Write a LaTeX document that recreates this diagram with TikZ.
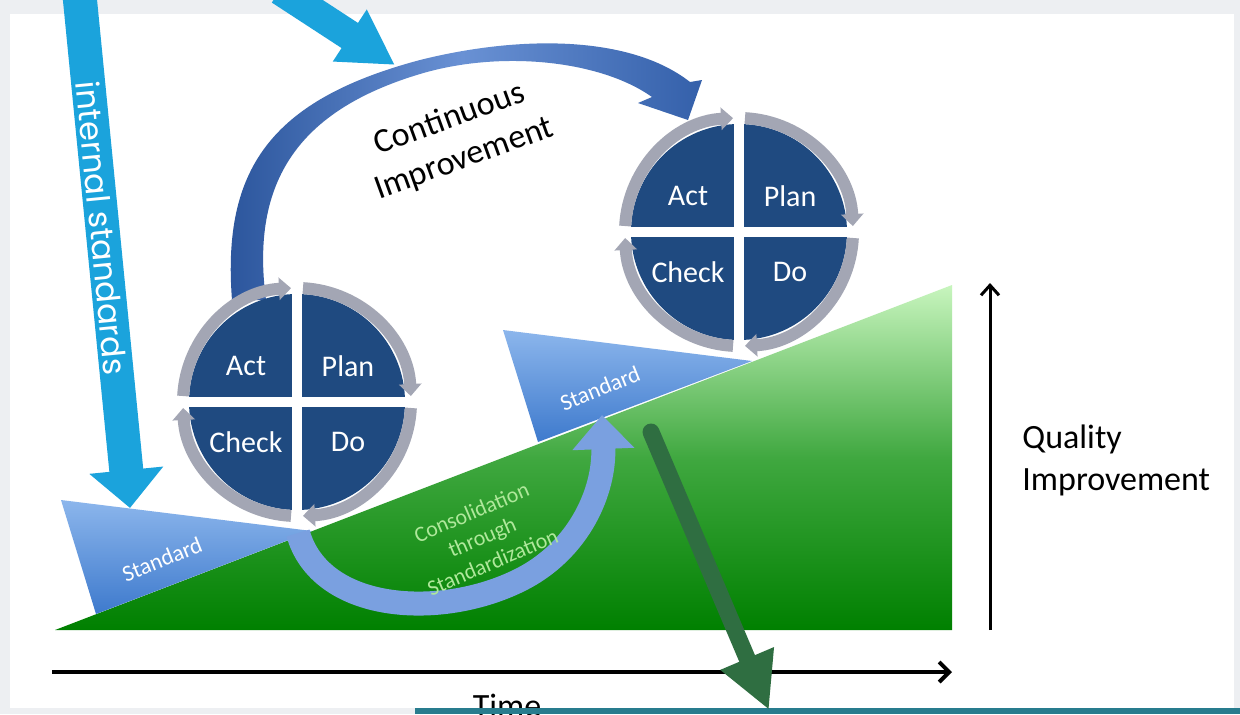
\documentclass[tikz,border=0pt]{standalone}
\usepackage{fontspec}
\setmainfont{Carlito}
\newfontfamily\geofont{Poppins}
\usepackage{tikz}
\usetikzlibrary{calc,arrows.meta}

\definecolor{skyblue}{RGB}{27,163,220}
\definecolor{pdcablue}{RGB}{31,74,128}
\definecolor{ringgray}{RGB}{163,166,180}
\definecolor{arcdark}{RGB}{42,84,155}
\definecolor{arclight}{RGB}{105,145,212}
\definecolor{arcright}{RGB}{52,96,170}
\definecolor{conblue}{RGB}{122,160,224}
\definecolor{darkgreen}{RGB}{47,110,65}
\definecolor{lightgreen}{RGB}{200,245,190}
\definecolor{midgreen}{RGB}{64,168,64}
\definecolor{rampgreen}{RGB}{0,128,0}
\definecolor{stdlight}{RGB}{140,182,236}
\definecolor{stddark}{RGB}{62,122,205}
\definecolor{framegray}{RGB}{237,239,242}
\definecolor{barteal}{RGB}{40,124,142}
\definecolor{contgreen}{RGB}{175,232,155}

\begin{document}
\begin{tikzpicture}[x=0.5pt,y=-0.5pt]
  \tikzstyle{quad}=[text=white,font=\fontsize{15}{18}\selectfont,inner sep=0pt]
  \tikzstyle{ring}=[draw=ringgray,line width=6pt,-{Triangle[width=11pt,length=6pt]}]
  \tikzstyle{std}=[text=white,font=\fontsize{11.5}{14}\selectfont,rotate=22,inner sep=0pt]
  \tikzstyle{big}=[font=\fontsize{17}{21}\selectfont,inner sep=0pt]
  \useasboundingbox (0,0) rectangle (1240,714);
  \clip (0,0) rectangle (1240,714);
  \fill[framegray] (0,0) rectangle (1240,714);
  \fill[white] (10,14) rectangle (1234,708);
  \coordinate (ciA) at (232,300);
  \coordinate (ciB) at (688,120);
  \shade[left color=arcdark,right color=arcright,middle color=arclight] (ciA) .. controls (222,170) and (270,100) .. (420,60) .. controls (520,35) and (630,35) .. (690,82) -- (702,80) -- (ciB) -- (638,103) -- (652,97) .. controls (600,60) and (500,50) .. (420,74) .. controls (300,110) and (250,180) .. (266,300) -- cycle;
  \coordinate (tsA) at (280,-10);
  \coordinate (tsB) at (395,65);
  \draw[skyblue,line width=15pt,-{Triangle[width=29pt,length=27pt]}] (tsA) -- (tsB);
  \coordinate (rL) at (55,630);
  \coordinate (rR) at (952,630);
  \coordinate (rT) at (952,285);
  \shade[top color=lightgreen,bottom color=rampgreen,middle color=midgreen] (rL) -- (rR) -- (rT) -- cycle;
  \coordinate (sa1) at (61,500);
  \coordinate (sa2) at (312,531);
  \coordinate (sa3) at (96,614);
  \shade[top color=stdlight,bottom color=stddark] (sa1) -- (sa2) -- (sa3) -- cycle;
  \node[std] (stdA) at (162,559) {Standard};
  \coordinate (sb1) at (503,330);
  \coordinate (sb2) at (752,361);
  \coordinate (sb3) at (538,442);
  \shade[top color=stdlight,bottom color=stddark] (sb1) -- (sb2) -- (sb3) -- cycle;
  \node[std] (stdB) at (600,388) {Standard};
  \coordinate (coA) at (298,533);
  \coordinate (coB) at (602,415);
  \draw[conblue,line width=12pt,-{Triangle[width=30pt,length=17pt]}] (coA) .. controls (320,612) and (440,620) .. (520,580) .. controls (580,550) and (605,490) .. (coB);
  \node[rotate=23,align=center,text=contgreen,font=\fontsize{11}{13.5}\selectfont,inner sep=0pt] (cons) at (482,537) {Consolidation\\through\\Standardization};
  \foreach \p/\cx/\cy in {pa/297/402,pb/739/232}{
    \coordinate (\p) at (\cx,\cy);
    \fill[pdcablue] (\p) circle[radius=108];
    \draw[white,line width=5pt] ($(\p)+(-122,0)$) -- ($(\p)+(122,0)$);
    \draw[white,line width=5pt] ($(\p)+(0,-122)$) -- ($(\p)+(0,122)$);
    \draw[ring] ($(\p)+(183:114)$) arc[start angle=183,end angle=267,radius=114];
    \draw[ring] ($(\p)+(273:114)$) arc[start angle=273,end angle=357,radius=114];
    \draw[ring] ($(\p)+(3:114)$) arc[start angle=3,end angle=87,radius=114];
    \draw[ring] ($(\p)+(93:114)$) arc[start angle=93,end angle=177,radius=114];
    \node[quad] (\p-act) at ($(\p)+(-51,-36)$) {Act};
    \node[quad] (\p-plan) at ($(\p)+(51,-36)$) {Plan};
    \node[quad] (\p-check) at ($(\p)+(-51,40)$) {Check};
    \node[quad] (\p-do) at ($(\p)+(51,40)$) {Do};
  }
  \coordinate (isA) at (79,-10);
  \coordinate (isB) at (130,508);
  \draw[skyblue,line width=17pt,-{Triangle[width=36pt,length=19pt]}] (isA) -- (isB);
  \node[rotate=-84.4,text=white,font=\geofont\fontsize{16}{19}\selectfont,inner sep=0pt] (isText) at (102,228) {internal standards};
  \node[big,rotate=20,align=center] (ci) at (457,139) {Continuous\\Improvement};
  \coordinate (tA) at (52,672);
  \coordinate (tB) at (952,672);
  \draw[line width=2pt,-{Straight Barb[length=5pt,width=10pt]}] (tA) -- (tB);
  \coordinate (qA) at (990,630);
  \coordinate (qB) at (990,283);
  \draw[line width=1.5pt,-{Straight Barb[length=5pt,width=9pt]}] (qA) -- (qB);
  \node[big,anchor=base west] (qual) at (1022,448) {Quality};
  \node[big,anchor=base west] (impr) at (1022,490) {Improvement};
  \node[big,anchor=base] (time) at (507,717) {Time};
  \fill[barteal] (415,708) rectangle (1240,714);
  \coordinate (dgA) at (651,432);
  \coordinate (dgB) at (769,710);
  \draw[darkgreen,line width=8.5pt,line cap=round,-{Triangle[width=27pt,length=28pt]}] (dgA) -- (dgB);
\end{tikzpicture}
\end{document}
